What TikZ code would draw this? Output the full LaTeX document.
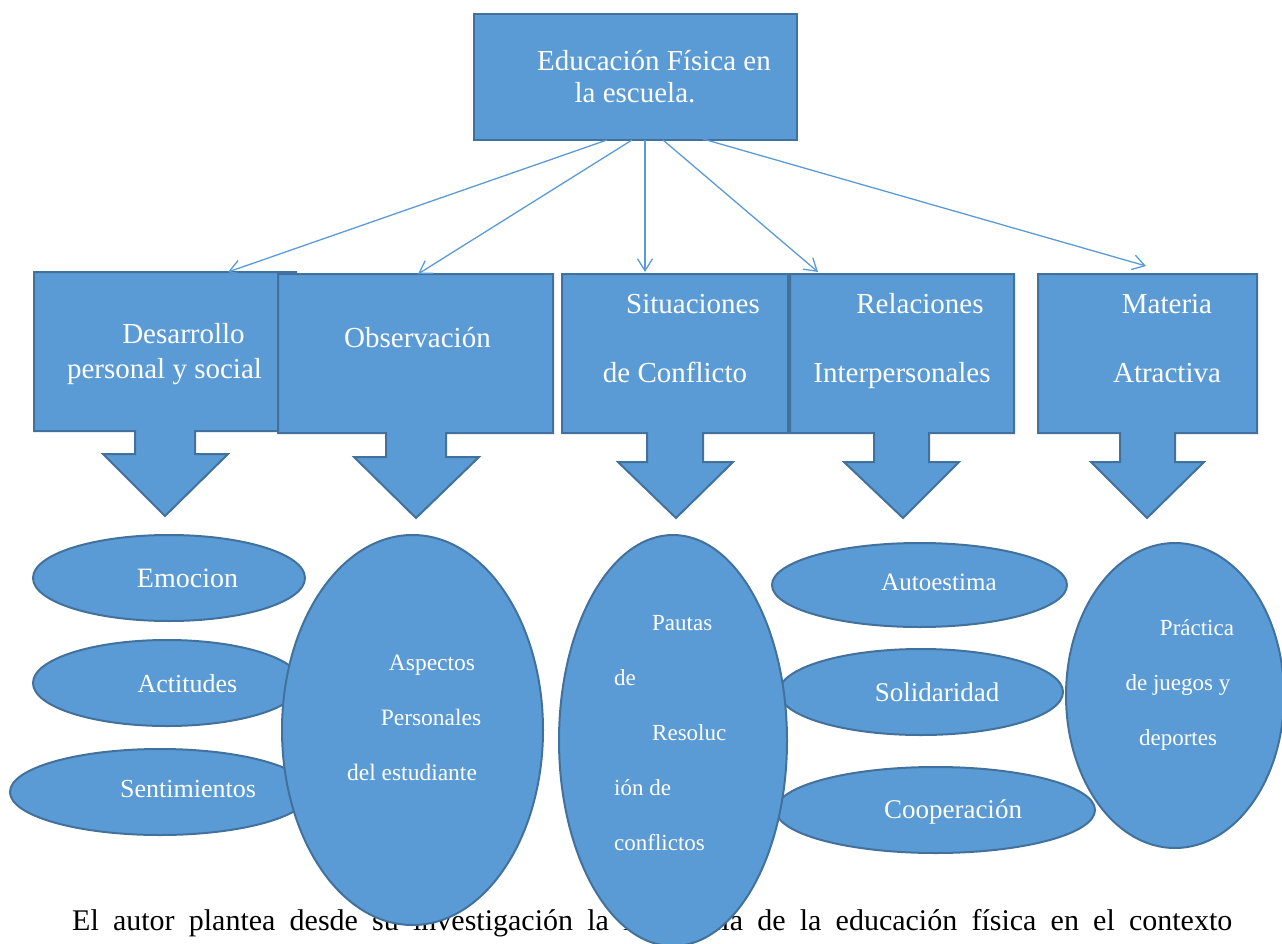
\documentclass[tikz,border=0pt]{standalone}
\usepackage{fontspec}
\setmainfont{Liberation Serif}
\usetikzlibrary{shapes.geometric,arrows.meta}
\definecolor{fillb}{HTML}{5B9BD5}
\definecolor{edgeb}{HTML}{41719C}
\newcommand{\fsz}[1]{\fontsize{#1}{#1}\selectfont}
\tikzset{
  shapebox/.style={fill=fillb,draw=edgeb,line width=2pt,line join=miter},
  ell/.style={ellipse,fill=fillb,draw=edgeb,line width=2pt,inner sep=0pt},
  wt/.style={text=white,inner sep=0pt,anchor=base},
  wl/.style={text=white,inner sep=0pt,anchor=base west},
  conn/.style={draw=fillb,line width=1.3pt,-{Straight Barb[length=12pt,width=15pt]}},
}
\begin{document}
\begin{tikzpicture}[x=1pt,y=-1pt]
\useasboundingbox (0,0) rectangle (1282,944);

% caption text (behind the big ellipses)
\node[anchor=base west,inner sep=0pt,font=\fsz{30}] (caption) at (72,930)
  {\makebox[1160pt][s]{El autor plantea desde su investigación la influencia de la educación física en el contexto}};

% top box
\node[shapebox,minimum width=323pt,minimum height=126pt,inner sep=0pt] (top) at (635.5,77) {};
\node[wt,font=\fsz{29}] (toptxt1) at (654,71) {Educación Física en};
\node[wt,font=\fsz{29}] (toptxt2) at (635,103) {la escuela.};

% down-arrow callouts
\draw[shapebox] (34,272) -- (296,272) -- (296,431) -- (195,431) -- (195,454) -- (228,454) -- (165,516)
  -- (103,454) -- (135,454) -- (135,431) -- (34,431) -- cycle;
\draw[shapebox] (278,274) -- (553,274) -- (553,433) -- (446,433) -- (446,457) -- (479,457) -- (416,518)
  -- (354,457) -- (386,457) -- (386,433) -- (278,433) -- cycle;
\draw[shapebox] (562,274) -- (788,274) -- (788,433) -- (703,433) -- (703,462) -- (733,462) -- (676,518)
  -- (618,462) -- (647,462) -- (647,433) -- (562,433) -- cycle;
\draw[shapebox] (790,274) -- (1014,274) -- (1014,433) -- (929,433) -- (929,462) -- (959,462) -- (903,518)
  -- (844,462) -- (874,462) -- (874,433) -- (790,433) -- cycle;
\draw[shapebox] (1038,274) -- (1257,274) -- (1257,433) -- (1175,433) -- (1175,462) -- (1204,462) -- (1147,518)
  -- (1091,462) -- (1120,462) -- (1120,433) -- (1038,433) -- cycle;

\node[wt,font=\fsz{29}] (b1a) at (183.5,343) {Desarrollo};
\node[wt,font=\fsz{29}] (b1b) at (164.5,378) {personal y social};
\node[wt,font=\fsz{29}] (b2a) at (417.5,347) {Observación};
\node[wt,font=\fsz{29}] (b3a) at (693,313) {Situaciones};
\node[wt,font=\fsz{29}] (b3b) at (675,382) {de Conflicto};
\node[wt,font=\fsz{29}] (b4a) at (920,313) {Relaciones};
\node[wt,font=\fsz{29}] (b4b) at (902,382) {Interpersonales};
\node[wt,font=\fsz{29}] (b5a) at (1167,313) {Materia};
\node[wt,font=\fsz{29}] (b5b) at (1167,382) {Atractiva};

% connectors
\coordinate (s1) at (607,140); \coordinate (t1) at (228,272);
\coordinate (s2) at (632,140); \coordinate (t2) at (418,274);
\coordinate (s3) at (645,140); \coordinate (t3) at (645,272);
\coordinate (s4) at (663,140); \coordinate (t4) at (818,272);
\coordinate (s5) at (703,139); \coordinate (t5) at (1146,266);
\draw[conn] (s1) -- (t1);
\draw[conn] (s2) -- (t2);
\draw[conn] (s3) -- (t3);
\draw[conn] (s4) -- (t4);
\draw[conn] (s5) -- (t5);

% small ellipses, left
\node[ell,minimum width=272pt,minimum height=86pt] (emo) at (169,578) {};
\node[ell,minimum width=268pt,minimum height=86pt] (act) at (167,683) {};
\node[ell,minimum width=300pt,minimum height=86pt] (sen) at (160,792) {};
\node[wt,font=\fsz{28}] (emot) at (187.5,587) {Emocion};
\node[wt,font=\fsz{26}] (actt) at (187.5,692) {Actitudes};
\node[wt,font=\fsz{26}] (sent) at (188,797) {Sentimientos};

% big ellipse Aspectos
\node[ell,minimum width=261pt,minimum height=390pt] (asp) at (412.5,730) {};
\node[wt,font=\fsz{23.5}] (aspa) at (432,670) {Aspectos};
\node[wt,font=\fsz{23.5}] (aspb) at (431,725) {Personales};
\node[wt,font=\fsz{23.5}] (aspc) at (412,780) {del estudiante};

% small ellipses, right
\node[ell,minimum width=295pt,minimum height=84pt] (aut) at (919.5,585) {};
\node[ell,minimum width=284pt,minimum height=86pt] (sol) at (921,692) {};
\node[ell,minimum width=319pt,minimum height=86pt] (coo) at (935.5,810) {};
\node[wt,font=\fsz{25}] (autt) at (939,590) {Autoestima};
\node[wt,font=\fsz{27}] (solt) at (937,701) {Solidaridad};
\node[wt,font=\fsz{27}] (coot) at (953,818) {Cooperación};

% big ellipse Pautas
\node[ell,minimum width=228pt,minimum height=411pt] (pau) at (673,740.5) {};
\node[wl,font=\fsz{23}] (paua) at (652,630) {Pautas};
\node[wl,font=\fsz{23}] (paub) at (614,685) {de};
\node[wl,font=\fsz{23}] (pauc) at (652,740) {Resoluc};
\node[wl,font=\fsz{23}] (paud) at (614,795) {ión de};
\node[wl,font=\fsz{23}] (paue) at (614,850) {conflictos};

% ellipse Practica
\node[ell,minimum width=218pt,minimum height=305pt] (pra) at (1175,695.5) {};
\node[wt,font=\fsz{23}] (praa) at (1197,635) {Práctica};
\node[wt,font=\fsz{23}] (prab) at (1178,690) {de juegos y};
\node[wt,font=\fsz{23}] (prac) at (1178,745) {deportes};
\end{tikzpicture}
\end{document}
